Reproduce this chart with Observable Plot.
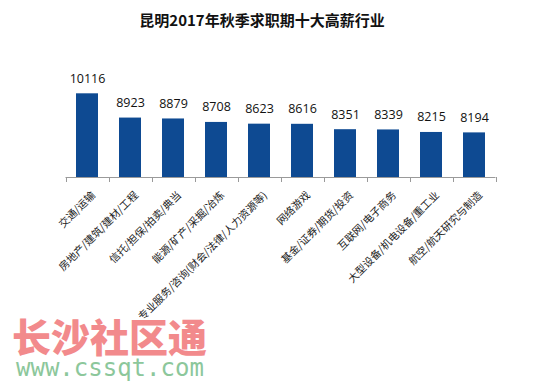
<!DOCTYPE html>
<html>
<head>
<meta charset="utf-8">
<script src="https://cdn.jsdelivr.net/npm/d3@7"></script>
<script src="https://cdn.jsdelivr.net/npm/@observablehq/plot@0.6"></script>
<style>
  html, body { margin: 0; padding: 0; background: #fff; }
  #wrap { position: relative; width: 554px; height: 392px; overflow: hidden; }
  #title { position: absolute; left: 0; top: 10px; width: 524px; text-align: center;
    font-family: "Noto Sans CJK SC", sans-serif; font-weight: bold; font-size: 15px; color: #111; line-height: 20px; }
  #wm1 { position: absolute; left: 12px; top: 316px; font-family: "Noto Sans CJK SC", sans-serif; font-weight: 900;
    font-size: 39px; color: #f28a8c; line-height: 38px; height: 38px; }
  #wm2 { position: absolute; left: 16px; top: 358px; font-family: "DejaVu Sans Mono", monospace;
    font-size: 24px; color: #8cc79b; line-height: 20px; height: 20px; }
  #chart { position: absolute; left: 0; top: 0; }
</style>
</head>
<body>
<div id="wrap">
  <div id="chart"></div>
  <div id="title">昆明2017年秋季求职期十大高薪行业</div>
  <div id="wm1">长沙社区通</div>
  <div id="wm2">www.cssqt.com</div>
</div>
<script>
const industries = [
  "交通/运输",
  "房地产/建筑/建材/工程",
  "信托/担保/拍卖/典当",
  "能源/矿产/采掘/冶炼",
  "专业服务/咨询(财会/法律/人力资源等)",
  "网络游戏",
  "基金/证券/期货/投资",
  "互联网/电子商务",
  "大型设备/机电设备/重工业",
  "航空/航天研究与制造"
];
const salaries = [10116, 8923, 8879, 8708, 8623, 8616, 8351, 8339, 8215, 8194];

const data = industries.map((name, i) => ({name, value: salaries[i]}));

// Excel-style category boundary ticks
function boundaryTicks(index, scales, values, dimensions) {
  const x = scales.x, y = scales.y;
  const g = d3.create("svg:g");
  const step = x.step(), bw = x.bandwidth();
  const y0 = y(6000);
  const xs = industries.map(c => x(c) + bw / 2 - step / 2);
  xs.push(x(industries[industries.length - 1]) + bw / 2 + step / 2);
  g.append("line").attr("x1", xs[0]).attr("x2", xs[xs.length - 1])
    .attr("y1", y0 + 0.5).attr("y2", y0 + 0.5).attr("stroke", "#9a9a9a");
  for (const px of xs) {
    g.append("line").attr("x1", Math.round(px) + 0.5).attr("x2", Math.round(px) + 0.5)
      .attr("y1", y0).attr("y2", y0 + 5).attr("stroke", "#9a9a9a");
  }
  return g.node();
}

const chart = Plot.plot({
  width: 554,
  height: 392,
  marginTop: 55,
  marginBottom: 215,
  marginLeft: 54,
  marginRight: 47,
  style: {fontFamily: "'Noto Sans CJK SC', sans-serif", background: "transparent"},
  x: {domain: industries, padding: 0.49, label: null, axis: null},
  y: {domain: [6000, 12000], axis: null},
  marks: [
    Plot.barY(data, {x: "name", y1: 6000, y2: "value", fill: "#0e4a92"}),
    Plot.text(data, {x: "name", y: "value", text: d => String(d.value), dy: -15,
      fontSize: 12.5, fill: "#111", fontFamily: "'Open Sans', sans-serif"}),
    boundaryTicks,
    Plot.text(industries, {x: d => d, y: 6000, text: d => d, rotate: -45, textAnchor: "end",
      lineAnchor: "middle", dx: 6, dy: 16, fontSize: 10.5, fill: "#222"})
  ]
});
document.getElementById("chart").appendChild(chart);
</script>
</body>
</html>
